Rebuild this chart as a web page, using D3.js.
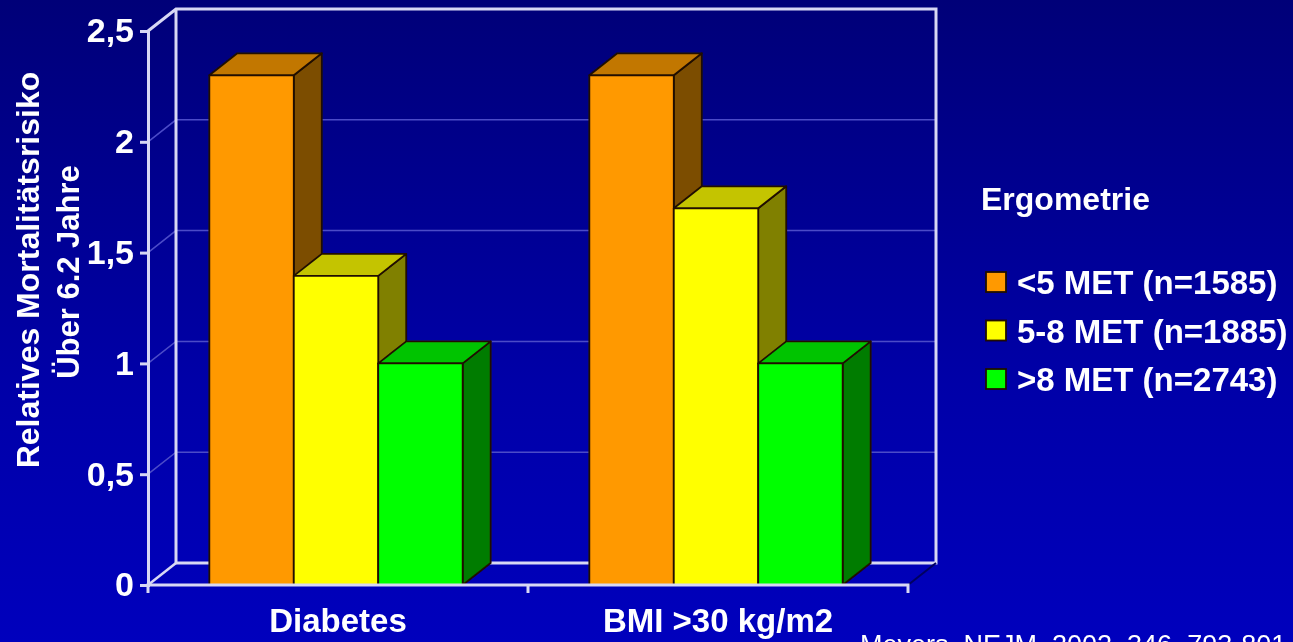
<!DOCTYPE html>
<html>
<head>
<meta charset="utf-8">
<script src="https://cdn.jsdelivr.net/npm/d3@7"></script>
<style>
    body { margin: 0; overflow: hidden; }
    text { font-family: "Liberation Sans", Arial, sans-serif; fill: #fff; }
    .bold { font-weight: bold; }
</style>
</head>
<body>
<div id="chart"></div>
<script>
// Values
const categories = ["Diabetes", "BMI >30 kg/m2"];
const seriesNames = ["<5 MET (n=1585)", "5-8 MET (n=1885)", ">8 MET (n=2743)"];
const lowMet = [2.3, 2.3];
const midMet = [1.395, 1.7];
const highMet = [1, 1];
const yTicks = [0, 0.5, 1, 1.5, 2, 2.5];
const yTickLabels = ["0", "0,5", "1", "1,5", "2", "2,5"];

const width = 1293, height = 642;
const plot = { left: 148, right: 908, top: 31, bottom: 585 };
const depth = { x: 28, y: -22 };

// front, top, side
const colors = [
    ["#ff9900", "#c27700", "#7c4d00"],
    ["#ffff00", "#c4c400", "#808000"],
    ["#00ff00", "#00c400", "#007c00"]
];

const svg = d3.select("#chart")
    .append("svg")
    .attr("width", width)
    .attr("height", height);

const defs = svg.append("defs");

// Background gradient
const grad = defs.append("linearGradient")
    .attr("id", "bg").attr("x1", 0).attr("y1", 0).attr("x2", 0).attr("y2", 1);
grad.append("stop").attr("offset", "0%").attr("stop-color", "#000078");
grad.append("stop").attr("offset", "60%").attr("stop-color", "#0000a8");
grad.append("stop").attr("offset", "100%").attr("stop-color", "#0000bd");
svg.append("rect").attr("width", width).attr("height", height).attr("fill", "url(#bg)");

// The source is a soft, scaled-up screenshot
defs.append("filter").attr("id", "soft")
    .attr("filterUnits", "userSpaceOnUse")
    .attr("x", 0).attr("y", 0)
    .attr("width", width).attr("height", height)
    .append("feGaussianBlur").attr("stdDeviation", 0.55);

const chart = svg.append("g").attr("filter", "url(#soft)");

// Scales
const y = d3.scaleLinear().domain([0, 2.5]).range([plot.bottom, plot.top]);
const x0 = d3.scaleBand().domain(categories).range([plot.left, plot.right]);
const x1 = d3.scaleBand()
    .domain(seriesNames)
    .range([-2, x0.bandwidth() - 2])
    .paddingInner(0)
    .paddingOuter(0.75);

const wall = "#d8d8f4";

// Gridlines on the back wall and side wall
const grid = chart.append("g");
yTicks.filter(d => d > 0 && d < 2.5).forEach(d => {
    grid.append("path")
        .attr("d", d3.line()([
            [plot.left, y(d)],
            [plot.left + depth.x, y(d) + depth.y],
            [plot.right + depth.x, y(d) + depth.y]
        ]))
        .attr("fill", "none")
        .attr("stroke", "#4c4cc8")
        .attr("stroke-width", 1.5);
});

// Back wall frame and floor
chart.append("path")
    .attr("d", d3.line()([
        [plot.left, y(2.5)],
        [plot.left + depth.x, y(2.5) + depth.y],
        [plot.right + depth.x, y(2.5) + depth.y],
        [plot.right + depth.x, y(0) + depth.y],
        [plot.left + depth.x, y(0) + depth.y],
        [plot.left + depth.x, y(2.5) + depth.y]
    ]))
    .attr("fill", "none")
    .attr("stroke", wall)
    .attr("stroke-width", 3);

chart.append("path")
    .attr("d", d3.line()([
        [plot.left, y(0)],
        [plot.left + depth.x, y(0) + depth.y]
    ]))
    .attr("stroke", wall)
    .attr("stroke-width", 2.5);

// Dark shadow edge on the right of the floor
chart.append("path")
    .attr("d", d3.line()([
        [plot.right, y(0)],
        [plot.right + depth.x, y(0) + depth.y]
    ]))
    .attr("stroke", "#000060")
    .attr("stroke-width", 2);

// Bars, drawn series by series so the nearer faces overlap correctly
const seriesValues = [lowMet, midMet, highMet];
const barGroup = chart.append("g")
    .attr("stroke", "#201000")
    .attr("stroke-width", 1.8)
    .attr("stroke-linejoin", "round");

categories.forEach((cat, c) => {
    seriesNames.forEach((name, s) => {
        const value = seriesValues[s][c];
        const left = x0(cat) + x1(name);
        const right = left + x1.bandwidth();
        const top = y(value);
        const bottom = y(0);
        const g = barGroup.append("g");
        // side face
        g.append("path")
            .attr("d", d3.line()([
                [right, top], [right + depth.x, top + depth.y],
                [right + depth.x, bottom + depth.y], [right, bottom]
            ]) + "Z")
            .attr("fill", colors[s][2]);
        // top face
        g.append("path")
            .attr("d", d3.line()([
                [left, top], [left + depth.x, top + depth.y],
                [right + depth.x, top + depth.y], [right, top]
            ]) + "Z")
            .attr("fill", colors[s][1]);
        // front face
        g.append("rect")
            .attr("x", left)
            .attr("y", top)
            .attr("width", right - left)
            .attr("height", bottom - top)
            .attr("fill", colors[s][0]);
    });
});

// Y axis
const yAxis = chart.append("g")
    .attr("transform", `translate(${plot.left},0)`)
    .call(d3.axisLeft(y)
        .tickValues(yTicks)
        .tickFormat((d, i) => yTickLabels[i])
        .tickSize(8)
        .tickPadding(6));
yAxis.selectAll("path, line").attr("stroke", wall).attr("stroke-width", 3);
yAxis.selectAll("text")
    .attr("class", "bold")
    .style("font-size", "34px")
    .attr("fill", "#fff");

// X axis
const xAxis = chart.append("g")
    .attr("transform", `translate(0,${plot.bottom})`)
    .call(d3.axisBottom(x0)
        .tickSize(0)
        .tickPadding(24));
xAxis.select("path").attr("stroke", wall).attr("stroke-width", 3)
    .attr("d", `M${plot.left},8V0H${plot.right}V8`);
xAxis.selectAll("text")
    .attr("class", "bold")
    .style("font-size", "33px")
    .attr("fill", "#fff");
xAxis.append("line")
    .attr("x1", x0(categories[1])).attr("x2", x0(categories[1]))
    .attr("y1", 0).attr("y2", 8)
    .attr("stroke", wall).attr("stroke-width", 3);

// Y title
const yTitle = chart.append("g")
    .attr("class", "bold")
    .attr("text-anchor", "middle");
yTitle.append("text")
    .attr("transform", "translate(39,270) rotate(-90)")
    .style("font-size", "32px")
    .text("Relatives Mortalitätsrisiko");
yTitle.append("text")
    .attr("transform", "translate(79,272) rotate(-90)")
    .style("font-size", "31px")
    .text("Über 6.2 Jahre");

// Legend
chart.append("text")
    .attr("class", "bold")
    .attr("x", 981).attr("y", 210)
    .style("font-size", "32px")
    .text("Ergometrie");

const legendY = d3.scalePoint().domain(seriesNames).range([282, 379]);
const legend = chart.selectAll(".legend")
    .data(seriesNames)
    .enter()
    .append("g")
    .attr("class", "legend")
    .attr("transform", d => `translate(986,${legendY(d)})`);
legend.append("rect")
    .attr("x", 0).attr("y", -10)
    .attr("width", 20).attr("height", 20)
    .attr("fill", (d, i) => colors[i][0])
    .attr("stroke", "#201000")
    .attr("stroke-width", 1.8);
legend.append("text")
    .attr("class", "bold")
    .attr("x", 31).attr("y", 12)
    .style("font-size", "33px")
    .text(d => d);

// Citation, runs off the bottom edge as in the source
chart.append("text")
    .attr("x", 860).attr("y", 654)
    .style("font-size", "27px")
    .text("Meyers, NEJM, 2002, 346, 793-801");
</script>
</body>
</html>
